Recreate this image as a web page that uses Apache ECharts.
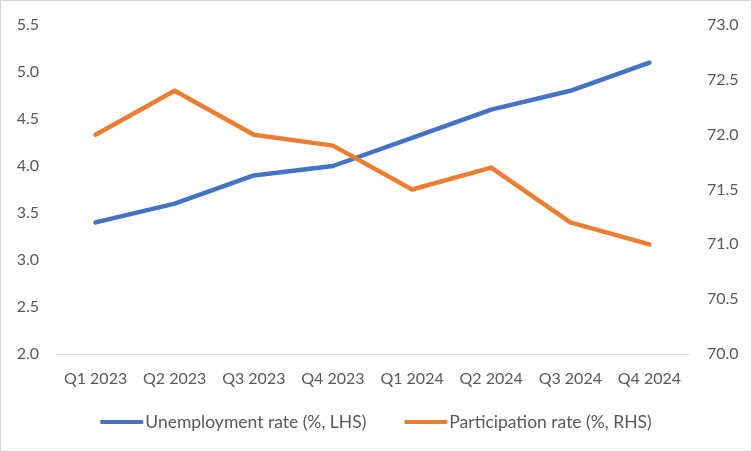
<!DOCTYPE html>
<html><head><meta charset="utf-8">
<script src="https://cdn.jsdelivr.net/npm/echarts@6/dist/echarts.min.js"></script>
<style>
html,body{margin:0;padding:0;background:#fff;}
#c{width:752px;height:452px;box-sizing:border-box;border:1px solid #d4d4d4;}
</style></head>
<body><div id="c"></div>
<script>
const categories = ['Q1 2023','Q2 2023','Q3 2023','Q4 2023','Q1 2024','Q2 2024','Q3 2024','Q4 2024'];
const unemployment = [3.4, 3.6, 3.9, 4.0, 4.3, 4.6, 4.8, 5.1];
const participation = [72.0, 72.4, 72.0, 71.9, 71.5, 71.7, 71.2, 71.0];
const leftName = 'Unemployment rate (%, LHS)';
const rightName = 'Participation rate (%, RHS)';

const chart = echarts.init(document.getElementById('c'), null, {renderer:'canvas'});
const font = 'Lato, "Open Sans", sans-serif';
const txt = '#595959';
chart.setOption({
  animation:false,
  textStyle:{fontFamily:font},
  grid:{left:55, right:62, top:24, bottom:97, containLabel:false},
  legend:{
    bottom:15, left:'center', itemWidth:43, itemHeight:4, itemGap:38,
    icon:'roundRect',
    textStyle:{color:txt, fontSize:17.5, fontFamily:font, padding:[0,0,0,-3]},
    data:[leftName, rightName]
  },
  xAxis:{
    type:'category', data:categories, boundaryGap:true,
    axisLine:{lineStyle:{color:'#d9d9d9', width:1}},
    axisTick:{show:false},
    axisLabel:{color:txt, fontSize:16, margin:17, fontFamily:font, interval:0, hideOverlap:false}
  },
  yAxis:[
    {type:'value', min:2.0, max:5.5, interval:0.5,
     axisLine:{show:false}, axisTick:{show:false}, splitLine:{show:false},
     axisLabel:{color:txt, fontSize:16, margin:17, fontFamily:font, formatter:v=>v.toFixed(1)}},
    {type:'value', min:70.0, max:73.0, interval:0.5,
     axisLine:{show:false}, axisTick:{show:false}, splitLine:{show:false},
     axisLabel:{color:txt, fontSize:16, margin:18, fontFamily:font, formatter:v=>v.toFixed(1)}}
  ],
  series:[
    {name:leftName, type:'line', yAxisIndex:0, data:unemployment, showSymbol:false,
     lineStyle:{color:'#4472C4', width:4.5, cap:'round', join:'round'}, itemStyle:{color:'#4472C4'}},
    {name:rightName, type:'line', yAxisIndex:1, data:participation, showSymbol:false,
     lineStyle:{color:'#ED7D31', width:4.5, cap:'round', join:'round'}, itemStyle:{color:'#ED7D31'}}
  ]
});
</script></body></html>
